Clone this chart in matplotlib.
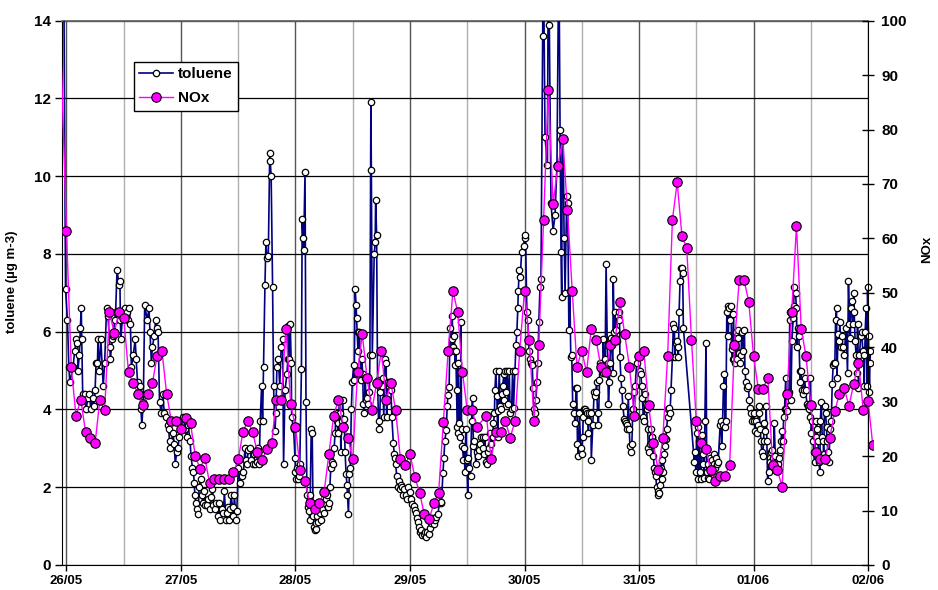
import numpy as np
import matplotlib
matplotlib.use('Agg')
import matplotlib.pyplot as plt
from matplotlib.patches import Rectangle

plt.rcParams['font.family'] = ['Liberation Sans', 'DejaVu Sans']
plt.rcParams['font.weight'] = 'bold'

day_labels = ['26/05', '27/05', '28/05', '29/05', '30/05', '31/05', '01/06', '02/06']

# ---------------- toluene (hour of day, value) per day ----------------
tol26_h = [-0.6, -0.2, 0.2, 0.5, 0.7, 1.4, 1.7, 2.1, 2.3, 2.4, 2.7, 2.9, 3.1, 3.2, 3.4, 3.8, 4.1, 4.5, 4.8, 5.1,
           5.5, 5.7, 6.0, 6.2, 6.5, 6.6, 6.8, 7.2, 7.7, 8.0, 8.4, 8.7, 9.1, 9.2, 9.6, 9.8, 10.1, 10.3, 10.6, 11.0,
           11.2, 11.3, 11.4, 11.8, 12.2, 12.7, 12.9, 13.2, 13.4, 13.6, 14.0, 14.4, 14.6, 14.9, 15.1, 15.4, 15.6, 15.8, 16.1, 16.4,
           16.9, 17.3, 17.5, 17.8, 18.0, 18.4, 18.7, 19.0, 19.2, 19.5, 19.9, 20.2, 20.5, 20.9, 21.2, 21.4, 21.6, 21.8, 22.3, 22.6,
           22.8, 23.1, 23.4, 23.6]
tol26_v = [16.0, 7.1, 6.3, 5.1, 4.7, 5.1, 5.5, 5.8, 5.7, 5.0, 5.4, 6.1, 6.6, 5.8, 4.4, 4.4, 4.0, 4.3, 4.4, 4.0,
           4.3, 4.1, 4.5, 5.2, 5.2, 5.8, 5.0, 5.8, 4.6, 5.2, 6.6, 6.4, 5.6, 5.3, 5.8, 5.9, 6.3, 6.5, 7.6, 7.2,
           7.3, 6.3, 5.8, 6.5, 6.6, 6.5, 6.3, 6.6, 6.2, 5.1, 5.4, 5.8, 5.3, 4.7, 4.4, 4.6, 4.0, 3.6, 4.2, 6.7,
           6.3, 6.6, 6.0, 5.2, 5.6, 5.9, 6.3, 6.1, 6.0, 4.2, 3.9, 4.4, 3.9, 3.8, 3.6, 3.5, 3.2, 3.0, 3.4, 3.1,
           2.6, 2.9, 3.0, 3.3]

tol27_h = [0.1, 0.5, 0.8, 1.2, 1.5, 1.9, 2.1, 2.4, 2.6, 2.8, 2.9, 3.1, 3.4, 3.6, 3.8, 4.1, 4.3, 4.6, 4.9, 5.0,
           5.4, 5.7, 6.0, 6.3, 6.6, 6.8, 7.1, 7.4, 7.7, 8.0, 8.2, 8.5, 8.9, 9.1, 9.4, 9.6, 9.8, 10.1, 10.3, 10.5,
           10.8, 11.0, 11.2, 11.5, 11.7, 12.0, 12.4, 12.7, 13.1, 13.4, 13.6, 13.8, 14.1, 14.5, 14.7, 15.0, 15.2, 15.5, 15.9, 16.2,
           16.4, 16.6, 16.9, 17.1, 17.3, 17.6, 17.8, 18.0, 18.3, 18.6, 18.7, 18.9, 19.2, 19.4, 19.7, 19.9, 20.1, 20.4, 20.7, 21.0,
           21.3, 21.5, 21.8, 22.2, 22.4, 22.5, 22.7, 22.9, 23.1, 23.2, 23.6, 23.9]
tol27_v = [3.55, 3.8, 3.5, 3.3, 3.6, 3.2, 2.8, 2.5, 2.4, 2.1, 1.8, 1.6, 1.45, 1.3, 2.0, 2.2, 1.8, 1.6, 1.9, 1.55,
           1.55, 1.7, 1.45, 1.75, 1.95, 1.55, 1.45, 1.6, 1.25, 1.6, 1.15, 1.45, 1.35, 1.9, 1.15, 1.35, 1.5, 1.15, 1.45, 1.8,
           1.5, 1.25, 1.8, 1.15, 1.4, 2.5, 2.1, 2.3, 2.4, 3.0, 2.7, 2.6, 2.95, 3.0, 2.7, 2.6, 2.85, 2.6, 2.65, 3.0,
           2.6, 3.7, 4.6, 3.7, 5.1, 7.2, 8.3, 7.9, 7.95, 10.6, 10.4, 10.0, 7.15, 4.6, 3.45, 3.9, 5.1, 5.3, 4.6, 5.6,
           5.8, 2.6, 4.5, 4.9, 5.3, 6.15, 5.3, 6.2, 5.2, 3.8, 3.5, 2.75]

tol28_h = [0.0, 0.2, 0.35, 0.5, 0.7, 0.9, 1.25, 1.4, 1.6, 1.7, 2.0, 2.2, 2.4, 2.6, 2.8, 3.0, 3.1, 3.3, 3.5, 3.7,
           3.8, 4.0, 4.2, 4.4, 4.5, 4.8, 5.1, 5.3, 5.6, 5.9, 6.1, 6.4, 6.6, 6.8, 7.0, 7.2, 7.4, 7.6, 7.8, 8.1,
           8.3, 8.5, 8.7, 8.9, 9.0, 9.2, 9.4, 9.5, 9.7, 9.9, 10.1, 10.2, 10.4, 10.6, 10.8, 10.9, 11.1, 11.3, 11.5, 11.7,
           11.9, 12.2, 12.3, 12.5, 12.7, 12.8, 13.1, 13.2, 13.4, 13.7, 13.9, 14.1, 14.2, 14.4, 14.6, 14.8, 14.9, 15.3, 15.5, 15.6,
           15.8, 15.9, 16.1, 16.5, 16.7, 16.8, 17.0, 17.2, 17.4, 17.6, 17.8, 18.1, 18.3, 18.5, 18.8, 19.0, 19.1, 19.3, 19.5, 19.8,
           20.0, 20.2, 20.5, 20.7, 20.9, 21.0, 21.2, 21.4, 21.6, 21.9, 22.1, 22.3, 22.6, 22.8, 23.1, 23.3, 23.6]
tol28_v = [2.4, 2.2, 2.5, 2.2, 2.3, 2.6, 5.05, 8.9, 8.4, 8.1, 10.1, 4.2, 1.8, 1.5, 1.4, 1.15, 1.8, 3.5, 3.4, 1.25,
           0.98, 0.9, 0.93, 1.07, 1.25, 1.1, 1.35, 1.15, 1.45, 1.35, 1.6, 1.7, 1.8, 1.5, 1.6, 2.0, 2.5, 2.65, 2.6, 3.0,
           3.4, 3.9, 3.7, 3.4, 3.65, 4.25, 3.9, 2.9, 3.7, 4.25, 3.55, 3.75, 2.9, 2.35, 2.05, 1.8, 1.3, 2.35, 2.5, 4.0,
           4.7, 5.15, 4.75, 7.1, 6.7, 6.35, 5.5, 6.0, 6.0, 4.75, 5.3, 4.9, 4.15, 3.9, 4.8, 4.25, 4.3, 4.15, 4.45, 5.4,
           11.9, 10.15, 5.4, 8.0, 8.3, 9.4, 8.5, 4.75, 3.7, 3.5, 4.45, 4.6, 4.8, 3.8, 5.3, 5.2, 3.8, 4.7, 4.6, 4.7,
           4.5, 3.8, 3.15, 2.85, 2.75, 2.6, 2.3, 2.0, 2.15, 1.95, 2.05, 2.0, 1.8, 1.95, 1.8, 1.7, 2.0]

tol29_h = [0.08, 0.3, 0.5, 0.85, 1.05, 1.3, 1.47, 1.68, 1.9, 2.0, 2.4, 2.6, 2.9, 3.1, 3.4, 3.6, 3.9, 4.1, 4.35, 4.7,
           5.0, 5.2, 5.5, 5.9, 6.1, 6.4, 6.6, 6.9, 7.1, 7.3, 7.6, 7.8, 7.95, 8.2, 8.4, 8.55, 8.7, 8.85, 9.0, 9.15,
           9.3, 9.45, 9.6, 9.75, 9.9, 10.0, 10.1, 10.3, 10.5, 10.7, 10.8, 11.0, 11.2, 11.4, 11.5, 11.7, 11.9, 12.1, 12.2, 12.4,
           12.7, 12.9, 13.1, 13.3, 13.5, 13.8, 14.0, 14.2, 14.5, 14.7, 14.9, 15.2, 15.4, 15.6, 15.7, 15.9, 16.2, 16.3, 16.6, 16.8,
           17.0, 17.3, 17.5, 17.7, 17.8, 18.0, 18.2, 18.4, 18.5, 18.7, 18.9, 19.1, 19.2, 19.4, 19.7, 19.8, 19.9, 20.1, 20.3, 20.6,
           20.8, 21.0, 21.3, 21.5, 21.7, 22.0, 22.2, 22.4, 22.6, 22.7, 22.9, 23.1, 23.4, 23.8]
tol29_v = [1.88, 1.71, 1.58, 1.51, 1.41, 1.33, 1.2, 1.11, 0.98, 0.86, 0.9, 0.77, 0.8, 0.86, 0.73, 0.85, 0.8, 0.94, 1.07, 1.2,
           1.05, 1.15, 1.24, 1.3, 1.59, 1.6, 1.63, 2.36, 2.75, 3.2, 3.47, 4.1, 4.37, 4.58, 6.1, 5.55, 5.8, 6.4, 5.6, 5.5,
           5.9, 5.15, 5.5, 4.5, 3.55, 3.4, 5.2, 3.65, 3.3, 6.25, 3.5, 3.05, 2.7, 3.0, 2.4, 3.5, 2.7, 1.8, 2.75, 2.5,
           2.3, 3.7, 4.3, 3.05, 3.2, 2.6, 2.9, 2.8, 2.95, 3.1, 3.3, 3.3, 3.0, 2.85, 3.3, 2.65, 2.6, 2.9, 3.0, 3.4,
           3.1, 3.3, 3.65, 3.9, 4.5, 5.0, 4.35, 3.3, 3.95, 5.0, 4.1, 4.0, 4.4, 4.6, 4.9, 4.25, 5.0, 4.45, 5.0, 4.15,
           5.0, 3.9, 4.0, 5.0, 4.05, 5.0, 5.65, 6.0, 6.6, 7.05, 7.6, 7.4, 8.05, 8.2]

tol30_h = [0.0, 0.2, 0.5, 0.7, 0.95, 1.15, 1.35, 1.6, 1.8, 2.0, 2.2, 2.4, 2.6, 2.8, 3.0, 3.25, 3.45, 3.8, 3.95, 4.3,
           4.8, 5.0, 5.2, 5.55, 6.0, 6.4, 6.8, 7.2, 7.45, 7.65, 7.8, 7.9, 8.1, 8.3, 8.5, 8.85, 9.05, 9.3, 9.5, 9.7,
           9.9, 10.1, 10.4, 10.6, 10.8, 10.95, 11.1, 11.3, 11.5, 11.8, 12.0, 12.2, 12.3, 12.5, 12.7, 12.9, 13.0, 13.25, 13.4, 13.6,
           13.9, 14.0, 14.3, 14.6, 14.8, 15.0, 15.1, 15.3, 15.5, 15.7, 15.8, 16.0, 16.2, 16.4, 16.5, 16.7, 16.9, 17.1, 17.4, 17.6,
           17.8, 17.9, 18.1, 18.3, 18.5, 18.6, 18.8, 19.0, 19.2, 19.3, 19.5, 19.75, 19.9, 20.0, 20.2, 20.4, 20.6, 20.9, 21.1, 21.3,
           21.4, 21.55, 21.75, 21.95, 22.1, 22.3, 22.5, 22.7, 22.8, 23.0, 23.2, 23.5, 23.9]
tol30_v = [8.4, 8.5, 6.5, 6.3, 5.5, 5.3, 5.2, 5.15, 4.55, 4.0, 3.9, 4.25, 4.7, 5.2, 6.25, 7.15, 7.35, 13.6, 16.0, 11.0,
           10.3, 16.0, 13.9, 9.3, 8.6, 9.0, 10.3, 16.0, 11.2, 8.05, 6.9, 10.95, 10.95, 8.4, 7.0, 9.5, 9.3, 6.05, 7.05, 5.35,
           5.4, 4.15, 3.9, 3.65, 4.55, 4.55, 3.1, 2.8, 3.9, 3.0, 2.85, 3.3, 3.8, 4.0, 4.0, 3.95, 3.9, 3.7, 3.4, 3.9,
           3.9, 2.7, 3.6, 4.45, 4.35, 4.45, 4.7, 3.9, 3.6, 4.75, 5.2, 5.1, 5.0, 4.95, 5.8, 5.1, 5.3, 7.75, 5.2, 4.15,
           4.7, 5.2, 5.85, 5.65, 4.95, 7.35, 6.0, 6.5, 6.05, 5.75, 6.4, 6.3, 6.5, 5.35, 4.8, 4.5, 4.1, 3.75, 3.7, 3.65,
           3.6, 3.5, 4.35, 3.5, 3.05, 2.9, 3.1, 4.0, 4.0, 4.45, 4.6, 5.2, 5.4]

tol31_h = [0.2, 0.4, 0.55, 0.7, 0.9, 1.1, 1.25, 1.4, 1.6, 1.8, 1.95, 2.1, 2.3, 2.5, 2.65, 2.8, 3.0, 3.2, 3.35, 3.5,
           3.7, 3.9, 4.05, 4.2, 4.4, 4.6, 4.75, 4.9, 5.1, 5.3, 5.45, 5.6, 5.8, 6.0, 6.15, 6.3, 6.5, 6.7, 7.0, 7.2,
           7.4, 7.55, 7.7, 7.9, 8.1, 8.25, 8.4, 8.6, 8.8, 8.95, 9.15, 9.3, 11.6, 11.75, 11.9, 12.1, 12.3, 12.4, 12.6, 12.8,
           13.0, 13.1, 13.35, 13.5, 13.7, 13.8, 14.05, 14.2, 14.4, 14.5, 14.7, 14.9, 15.1, 15.2, 15.4, 15.65, 15.8, 15.9, 16.1, 16.35,
           16.6, 17.0, 17.2, 17.3, 17.5, 17.7, 17.9, 18.0, 18.2, 18.4, 18.6, 18.7, 18.9, 19.1, 19.3, 19.4, 19.6, 19.8, 20.0, 20.1,
           20.3, 20.5, 20.7, 20.8, 21.0, 21.2, 21.4, 21.5, 21.9, 22.1, 22.2, 22.4, 22.6, 22.9, 23.1, 23.3, 23.5, 23.6]
tol31_v = [5.0, 4.9, 4.6, 4.3, 3.8, 3.7, 4.4, 4.15, 4.0, 3.5, 3.0, 2.9, 3.1, 3.5, 3.3, 3.3, 2.8, 2.5, 2.4, 2.3,
           2.0, 1.9, 1.8, 1.85, 2.05, 2.5, 2.7, 2.2, 2.4, 2.85, 3.05, 3.25, 3.5, 3.8, 4.0, 4.05, 3.9, 4.5, 5.35, 6.2,
           6.1, 5.35, 5.7, 5.75, 5.6, 5.35, 6.5, 7.3, 7.65, 7.65, 7.5, 6.1, 2.65, 2.9, 2.4, 3.4, 3.55, 2.2, 3.2, 2.4,
           2.2, 3.35, 2.85, 2.6, 2.25, 3.7, 5.7, 2.4, 2.25, 2.6, 2.2, 2.75, 2.5, 2.7, 2.4, 2.6, 2.85, 2.5, 2.75, 2.6,
           2.65, 3.6, 3.7, 3.05, 3.6, 4.6, 4.9, 3.55, 3.7, 6.5, 6.65, 5.9, 6.6, 6.3, 6.65, 5.55, 5.3, 6.45, 5.3, 5.2,
           6.0, 5.3, 6.05, 5.85, 5.45, 5.2, 5.4, 6.0, 5.5, 6.05, 5.0, 4.7, 4.55, 4.6, 4.25, 4.05, 3.9, 3.7]

tol01_h = [0.0, 0.15, 0.35, 0.55, 0.7, 0.85, 1.05, 1.25, 1.4, 1.55,
           1.75, 1.95, 2.1, 2.3, 2.5, 2.65, 2.8, 2.95, 3.15, 3.35,
           3.5, 3.65, 3.85, 4.05, 4.2, 4.35, 4.55, 4.75, 4.9, 5.05,
           5.25, 5.5, 5.6, 5.75, 5.95, 6.2, 6.3, 6.5, 6.75, 6.9,
           7.0, 7.2, 7.45, 7.6, 7.7, 7.85, 8.05, 8.3, 8.4, 8.55,
           8.8, 9.0, 9.1, 9.25, 9.5, 9.7, 9.8, 9.95, 10.2, 10.4,
           10.5, 10.7, 10.9, 11.2, 11.4, 11.6, 11.8, 11.9, 12.1, 12.3,
           12.5, 12.6, 12.8, 13.0, 13.2, 13.3, 13.5, 13.7, 13.9, 14.0,
           14.2, 14.4, 14.6, 14.7, 14.9, 15.1, 15.3, 15.4, 15.6, 15.8,
           16.0, 16.1, 16.3, 16.5, 16.7, 16.8, 17.05, 17.2, 17.4, 17.5,
           17.7, 17.9, 18.1, 18.3, 18.5, 18.7, 19.0, 19.4, 19.7, 19.9,
           20.1, 20.3, 20.4, 20.6, 20.8, 21.0, 21.1, 21.3, 21.5, 21.7,
           21.8, 22.0, 22.2, 22.5, 22.7, 22.9, 23.1, 23.2, 23.4, 23.6,
           23.8, 23.9, 24.1, 24.3, 24.4, 24.5]
tol01_v = [3.9, 3.7, 3.45, 3.7, 3.4, 3.6, 4.1, 3.9, 3.5, 3.2,
           2.9, 2.8, 3.2, 3.65, 3.45, 4.1, 3.2, 2.15, 2.4, 2.75,
           2.65, 2.9, 2.95, 2.75, 2.6, 3.65, 2.8, 2.6, 2.65, 2.6,
           2.75, 2.9, 2.95, 3.2, 3.45, 3.2, 3.8, 4.0, 4.8, 4.0,
           3.95, 4.25, 4.45, 6.5, 6.3, 4.25, 5.75, 6.35, 6.65, 7.15,
           7.0, 6.6, 5.6, 6.1, 5.9, 5.0, 4.7, 5.0, 4.5, 4.4,
           4.5, 4.8, 4.5, 4.15, 4.1, 4.0, 3.8, 4.8, 3.4, 3.7,
           3.2, 2.9, 2.65, 3.3, 3.7, 3.5, 3.2, 2.65, 2.4, 3.7,
           4.2, 3.3, 3.2, 2.85, 4.1, 3.9, 3.55, 3.2, 2.9, 2.65,
           3.3, 3.5, 3.7, 4.65, 5.15, 5.2, 5.2, 6.3, 6.6, 4.8,
           5.95, 5.75, 6.25, 5.6, 5.9, 5.6, 5.4, 6.1, 4.95, 7.3,
           6.2, 5.85, 6.6, 6.8, 6.2, 7.0, 6.5, 5.75, 5.4, 4.95,
           6.2, 4.55, 5.4, 5.9, 6.0, 5.5, 5.4, 4.6, 6.0, 6.6,
           4.6, 7.15, 5.9, 4.45, 5.2, 5.5]

# ---------------- NOx, hourly values (hours 0..23) per day ----------------
nox_start = [104.0]         # value 1.5 h before 26/05 00:00 (only its line shows)
nox26 = [61.3, 36.4, 27.4, 30.4, 24.4, 23.4, 22.4, 30.4, 28.4, 46.4, 42.7, 46.4,
         45.4, 35.4, 33.4, 31.4, 29.4, 31.4, 33.4, 38.4, 39.4, 31.4, 26.4, 26.4]
nox27 = [25.0, 27.0, 26.0, 20.0, 17.7, 19.7, 15.0, 15.8, 15.8, 15.8, 15.8, 17.0,
         19.4, 24.5, 26.4, 24.5, 20.7, 19.2, 21.4, 22.4, 30.4, 30.4, 43.4, 29.5]
nox28 = [25.4, 17.4, 15.4, 11.3, 10.3, 11.3, 13.4, 20.4, 27.4, 30.4, 25.4, 23.4,
         19.4, 35.4, 42.4, 34.4, 28.4, 33.4, 39.4, 30.4, 33.4, 28.4, 19.4, 18.4]
nox29 = [20.4, 16.2, 13.3, 9.3, 8.4, 11.3, 13.3, 26.3, 39.4, 50.4, 46.4, 35.4,
         28.4, 28.4, 25.4, None, 27.4, 19.4, 24.4, 24.4, 26.4, 23.4, 26.4, 39.4]
nox30 = [50.4, 41.4, 26.4, 40.4, 63.4, 87.2, 66.3, 73.3, 78.3, 65.3, 50.4, 36.4,
         39.4, 35.4, 43.4, 41.4, 36.4, 35.4, 40.4, 41.4, 48.4, 42.4, 36.4, 27.4]
nox31 = [38.4, 39.4, 29.4, 22.4, 17.4, 23.4, 38.4, 63.4, 70.3, 60.4, 58.3, 41.4,
         26.4, 22.4, 21.4, 17.4, 15.4, 16.4, 16.4, 18.4, 40.4, 52.4, 52.4, 48.4]
nox01 = [38.4, 32.4, 32.4, 34.4, 18.4, 17.4, 14.4, 31.4, 46.4, 62.3, 43.4, 38.4,
         29.4, 20.7, 19.4, 19.4, 23.4, 28.2, 31.4, 32.5, 29.2, 33.3, 37.2, 28.5]
nox02 = [30.2, 22.0]

tol_days = [(tol26_h, tol26_v), (tol27_h, tol27_v), (tol28_h, tol28_v), (tol29_h, tol29_v),
            (tol30_h, tol30_v), (tol31_h, tol31_v), (tol01_h, tol01_v)]
nox_days = [nox26, nox27, nox28, nox29, nox30, nox31, nox01, nox02]

tol_x, tol_y = [], []
for d, (hs, vs) in enumerate(tol_days):
    for h, v in zip(hs, vs, strict=True):
        tol_x.append(d + h / 24.0)
        tol_y.append(v)

nox_x, nox_y = [-1.5 / 24.0], list(nox_start)
for d, vals in enumerate(nox_days):
    for k, v in enumerate(vals):
        if v is not None:
            nox_x.append(d + k / 24.0)
            nox_y.append(v)

# ---------------- figure ----------------
fig = plt.figure(figsize=(9.38, 5.90), dpi=100)
ax = fig.add_axes([0.0666, 0.0424, 0.8588, 0.9225])
ax2 = ax.twinx()

ax.set_xlim(-0.035, 7.0)
ax.set_ylim(0, 14)
ax2.set_ylim(0, 100)

ax.set_axisbelow(True)
ax.set_xticks(range(8))
ax.set_xticklabels(day_labels, fontsize=9.5, fontweight='bold')
ax.set_xticks(np.arange(0.5, 7, 1.0), minor=True)
ax.set_yticks(np.arange(0, 15, 2))
ax.set_yticklabels([str(v) for v in range(0, 15, 2)], fontsize=11, fontweight='bold')
ax2.set_yticks(np.arange(0, 101, 10))
ax2.set_yticklabels([str(v) for v in range(0, 101, 10)], fontsize=11, fontweight='bold')

ax.grid(axis='x', which='major', color='#555555', lw=1.0)
ax.grid(axis='x', which='minor', color='#b0b0b0', lw=1.0)
ax.grid(axis='y', which='major', color='black', lw=0.9)

ax.tick_params(axis='x', which='major', direction='out', length=4, width=1, pad=3)
ax.tick_params(axis='x', which='minor', length=0)
ax.tick_params(axis='y', direction='out', length=5, width=1, pad=3)
ax2.tick_params(axis='y', direction='inout', length=9, width=1, pad=5)

for s in ['left', 'bottom']:
    ax.spines[s].set_color('black')
ax.spines['top'].set_color('#666666')
ax.spines['top'].set_linewidth(1.3)
ax.spines['right'].set_visible(False)
for s in ['left', 'bottom', 'top']:
    ax2.spines[s].set_visible(False)
ax2.spines['right'].set_color('black')

l1, = ax.plot(tol_x, tol_y, color='#000080', lw=1.2, marker='o', ms=4.6,
              mfc='white', mec='black', mew=0.9, zorder=3)
l2, = ax2.plot(nox_x, nox_y, color='#FF00FF', lw=1.0, marker='o', ms=6.8,
               mfc='#FF00FF', mec='black', mew=0.8, zorder=3)

clip1 = Rectangle((0, 0), 1.006, 1, transform=ax.transAxes)
l1.set_clip_path(clip1)
clip2 = Rectangle((0, 0), 1.006, 1, transform=ax2.transAxes)
l2.set_clip_path(clip2)

ax.set_ylabel('toluene (µg m-3)', fontsize=9.5, fontweight='bold')
ax.yaxis.set_label_coords(-0.055, 0.52)
ax2.set_ylabel('NOx', fontsize=9.5, fontweight='bold')
ax2.yaxis.set_label_coords(1.066, 0.58)

leg = ax2.legend([l1, l2], ['toluene', 'NOx'], loc='upper left',
                 bbox_to_anchor=(0.0888, 0.924), borderaxespad=0,
                 frameon=True, fancybox=False, edgecolor='black', framealpha=1,
                 prop={'size': 11, 'weight': 'bold'}, handlelength=2.2,
                 handletextpad=0.35, labelspacing=0.65, borderpad=0.35)
leg.get_frame().set_linewidth(1.0)

fig.savefig('out.png', dpi=100)
